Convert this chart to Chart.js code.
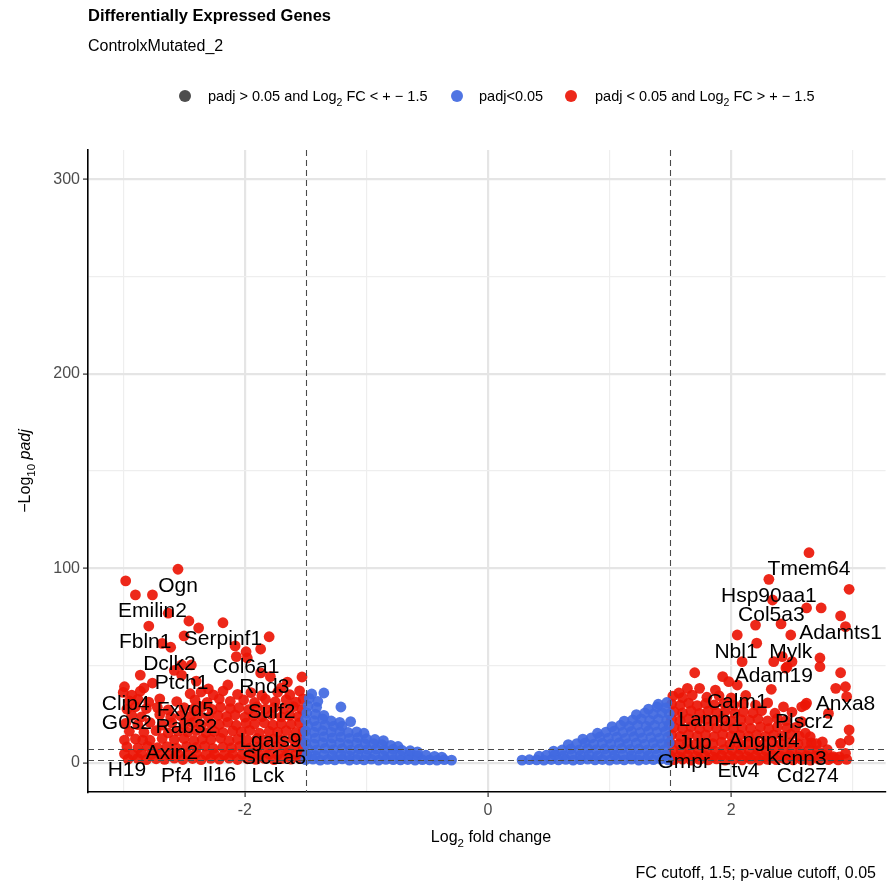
<!DOCTYPE html>
<html>
<head>
<meta charset="utf-8">
<script src="https://cdn.jsdelivr.net/npm/chart.js@4.4.1/dist/chart.umd.min.js"></script>
<style>
  html, body { margin: 0; padding: 0; background: #fff; }
  #wrap { width: 891px; height: 883px; }
</style>
</head>
<body>
<div id="wrap"><canvas id="volcano" width="891" height="883"></canvas></div>
<script>
const FONT = '"Liberation Sans", Arial, Helvetica, sans-serif';
const BLUE = "rgba(65,105,225,0.92)";
const RED = "rgba(236,22,6,0.92)";
const GREY = "#4d4d4d";

// [log2FC, -log10 padj]
const redLeft = [
  [-2.55,99.5],[-2.98,93.5],[-2.90,86.3],[-2.76,86.3],[-2.63,76.9],[-2.79,70.3],[-2.46,72.9],[-2.38,69.3],
  [-2.18,72.0],[-1.80,64.8],[-2.50,65.2],[-2.68,61.4],[-2.61,59.4],[-2.08,60.1],[-1.99,57.1],[-1.87,58.5],
  [-2.07,54.6],[-1.98,53.9],[-2.52,50.3],[-2.44,50.3],[-2.58,47.5],[-1.53,44.1],[-1.79,44.3],[-1.87,46.2],
  [-2.14,40.0],[-2.86,45.1],[-2.76,41.0],[-2.99,39.1],[-2.83,38.5],[-2.52,45.1],[-2.40,42.0],[-2.30,38.0],
  [-1.65,41.5],[-1.70,38.5],[-2.99,11.7],[-2.84,11.7],
  [-3.00,36.2],[-2.93,34.8],[-2.86,36.8],[-2.45,35.5],[-2.36,36.4],[-2.26,34.9],[-2.18,36.9],[-2.06,35.2],
  [-1.95,36.1],[-1.86,34.6],[-1.73,36.3],[-1.63,35.0],[-1.55,37.0],
  [-2.95,31.8],[-2.88,32.6],[-2.79,31.2],[-2.70,32.9],[-2.56,31.5],[-2.41,32.4],[-2.31,31.1],[-2.21,32.8],
  [-2.12,31.6],[-2.01,32.3],[-1.92,31.0],[-1.83,32.7],[-1.75,31.4],[-1.66,32.5],[-1.58,31.2],[-1.52,32.9],
  [-2.97,27.6],[-2.90,28.8],[-2.81,27.9],[-2.72,28.5],[-2.63,27.2],[-2.50,28.4],[-2.42,27.7],[-2.35,28.9],
  [-2.27,27.4],[-2.20,28.6],[-2.12,27.9],[-2.05,28.3],[-1.97,27.3],[-1.90,28.7],[-1.83,27.6],[-1.76,28.4],
  [-1.68,27.8],[-1.60,28.9],[-1.53,27.5],
  [-2.93,24.4],[-2.85,23.6],[-2.70,24.8],[-2.61,23.5],[-2.53,24.2],[-2.45,23.9],[-2.38,24.7],[-2.30,23.4],
  [-2.22,24.3],[-2.15,23.8],[-2.08,24.6],[-2.00,23.5],[-1.93,24.1],[-1.86,23.7],[-1.78,24.8],[-1.70,23.6],
  [-1.63,24.4],[-1.56,23.9],
  [-2.98,20.3],[-2.88,19.6],[-2.78,20.7],[-2.68,19.4],[-2.60,20.5],[-2.50,19.8],[-2.43,20.6],[-2.36,19.5],
  [-2.28,20.2],[-2.21,19.7],[-2.14,20.8],[-2.07,19.3],[-1.99,20.4],[-1.92,19.9],[-1.84,20.6],[-1.77,19.5],
  [-1.70,20.1],[-1.62,19.8],[-1.55,20.5],
  [-2.95,16.2],[-2.83,15.7],[-2.73,16.5],[-2.63,15.4],[-2.55,16.3],[-2.47,15.8],[-2.40,16.6],[-2.32,15.5],
  [-2.25,16.1],[-2.18,15.6],[-2.10,16.4],[-2.03,15.9],[-1.96,16.7],[-1.88,15.3],[-1.80,16.2],[-1.73,15.8],
  [-1.66,16.5],[-1.58,15.6],[-1.52,16.3],
  [-2.90,12.3],[-2.78,11.6],[-2.68,12.5],[-2.58,11.8],[-2.50,12.4],[-2.42,11.5],[-2.35,12.2],[-2.28,11.9],
  [-2.20,12.6],[-2.13,11.4],[-2.06,12.1],[-1.98,11.7],[-1.90,12.5],[-1.83,11.6],[-1.76,12.3],[-1.69,11.8],
  [-1.61,12.4],[-1.54,11.5],
  [-2.97,8.2],[-2.88,7.6],[-2.80,8.5],[-2.72,7.8],[-2.64,8.3],[-2.56,7.5],[-2.48,8.4],[-2.40,7.9],
  [-2.33,8.6],[-2.26,7.4],[-2.18,8.1],[-2.11,7.7],[-2.04,8.5],[-1.96,7.6],[-1.89,8.2],[-1.82,7.8],
  [-1.74,8.4],[-1.67,7.5],[-1.59,8.1],[-1.52,7.7],
  [-2.99,4.6],[-2.92,4.1],[-2.85,4.9],[-2.77,4.3],[-2.70,4.7],[-2.62,4.0],[-2.55,4.8],[-2.47,4.4],
  [-2.40,4.9],[-2.32,4.2],[-2.25,4.6],[-2.17,4.1],[-2.10,4.8],[-2.02,4.3],[-1.95,4.7],[-1.88,4.0],
  [-1.80,4.5],[-1.73,4.2],[-1.65,4.8],[-1.58,4.3],[-1.51,4.6],
  [-2.96,1.9],[-2.88,2.3],[-2.81,1.6],[-2.73,2.1],[-2.66,1.8],[-2.58,2.4],[-2.51,1.7],[-2.43,2.2],
  [-2.36,1.6],[-2.28,2.3],[-2.21,1.9],[-2.13,2.4],[-2.06,1.7],[-1.98,2.1],[-1.91,1.8],[-1.84,2.3],
  [-1.76,1.6],[-1.69,2.2],[-1.62,1.9],[-1.54,2.4],
];

const redRight = [
  [2.64,108.0],[2.31,94.3],[2.97,89.2],[2.34,83.7],[2.62,79.6],[2.74,79.6],[2.90,75.5],[2.94,70.0],
  [2.20,70.8],[2.41,71.4],[2.49,65.7],[2.05,65.7],[2.21,61.5],[2.73,53.9],[2.09,52.0],[2.35,52.0],
  [2.45,48.7],[2.50,52.0],[2.73,49.4],[2.90,46.3],[1.70,46.3],[1.93,44.3],[1.98,41.7],[2.05,40.0],
  [2.33,37.8],[2.86,38.3],[2.94,39.1],[2.95,34.0],[1.87,37.4],[1.74,38.3],[1.64,38.3],[1.57,35.9],
  [2.61,29.7],[2.43,28.8],[2.97,16.9],[2.97,11.7],[2.75,10.8],[2.89,3.1],[2.61,15.3],[2.66,10.2],
  [2.62,30.7],[2.58,28.8],[2.80,25.4],[2.90,10.0],[2.65,13.4],[2.58,21.1],[2.94,4.9],[2.83,2.5],
  [2.42,54.6],[2.46,49.4],
  [1.52,34.3],[1.60,33.5],[1.68,34.8],[1.80,33.7],[1.90,34.5],[2.00,33.4],[2.12,34.6],
  [1.51,30.2],[1.58,29.6],[1.65,30.7],[1.72,29.4],[1.79,30.5],[1.86,29.8],[1.94,30.6],[2.02,29.5],
  [2.10,30.3],[2.20,29.7],[2.30,30.8],
  [1.53,26.3],[1.60,25.6],[1.67,26.7],[1.74,25.4],[1.81,26.5],[1.88,25.8],[1.95,26.6],[2.03,25.5],
  [2.10,26.2],[2.18,25.7],[2.25,26.8],[2.36,25.5],[2.50,26.1],
  [1.51,22.4],[1.58,21.7],[1.65,22.6],[1.72,21.5],[1.79,22.3],[1.86,21.8],[1.93,22.7],[2.00,21.4],
  [2.08,22.2],[2.15,21.9],[2.22,22.5],[2.30,21.6],[2.38,22.8],[2.45,21.7],
  [1.53,18.2],[1.60,17.6],[1.67,18.5],[1.74,17.4],[1.81,18.3],[1.88,17.8],[1.95,18.6],[2.02,17.5],
  [2.09,18.1],[2.16,17.7],[2.24,18.4],[2.31,17.6],[2.38,18.5],[2.46,17.8],[2.53,18.2],
  [1.51,14.3],[1.58,13.6],[1.65,14.5],[1.72,13.8],[1.79,14.4],[1.86,13.5],[1.93,14.6],[2.00,13.9],
  [2.07,14.2],[2.14,13.7],[2.21,14.5],[2.28,13.6],[2.35,14.4],[2.42,13.8],[2.49,14.6],[2.56,13.7],
  [1.50,10.2],[1.57,9.7],[1.64,10.5],[1.71,9.6],[1.78,10.3],[1.85,9.8],[1.92,10.6],[1.99,9.5],
  [2.06,10.1],[2.13,9.9],[2.20,10.4],[2.27,9.6],[2.34,10.5],[2.41,9.8],[2.48,10.3],[2.55,9.7],
  [2.62,10.2],[2.70,9.9],
  [1.52,6.6],[1.59,6.1],[1.66,6.9],[1.73,6.3],[1.80,6.7],[1.87,6.0],[1.94,6.8],[2.01,6.4],
  [2.08,6.9],[2.15,6.2],[2.22,6.6],[2.29,6.1],[2.36,6.8],[2.43,6.3],[2.50,6.7],[2.57,6.0],
  [2.64,6.5],[2.71,6.2],[2.79,6.8],
  [1.50,3.6],[1.57,3.2],[1.64,3.9],[1.71,3.3],[1.78,3.7],[1.85,3.1],[1.92,3.8],[1.99,3.4],
  [2.06,3.9],[2.13,3.2],[2.20,3.6],[2.27,3.0],[2.34,3.8],[2.41,3.3],[2.48,3.7],[2.55,3.1],
  [2.62,3.6],[2.69,3.4],[2.76,3.9],[2.84,3.2],
  [1.53,1.6],[1.60,1.9],[1.67,1.4],[1.74,1.8],[1.81,1.5],[1.88,2.0],[1.95,1.4],[2.02,1.7],
  [2.09,1.5],[2.16,1.9],[2.23,1.4],[2.30,1.8],[2.37,1.6],[2.44,2.0],[2.51,1.5],[2.58,1.7],
  [2.65,1.4],[2.72,1.9],[2.80,1.6],[2.88,1.5],[2.95,1.8],
];

const blueLeft = [
  [-1.50,1.6],[-1.44,1.9],[-1.38,1.4],[-1.32,1.8],[-1.26,1.5],[-1.20,2.0],[-1.14,1.4],[-1.08,1.7],
  [-1.02,1.5],[-0.96,1.9],[-0.90,1.4],[-0.84,1.8],[-0.78,1.6],[-0.72,1.5],[-0.66,1.7],[-0.60,1.4],
  [-0.54,1.6],[-0.48,1.5],[-0.42,1.4],[-0.36,1.6],[-0.30,1.4],
  [-1.49,4.1],[-1.42,3.7],[-1.35,4.3],[-1.28,3.8],[-1.21,4.2],[-1.14,3.6],[-1.07,4.4],[-1.00,3.9],
  [-0.93,4.2],[-0.86,3.7],[-0.79,4.1],[-0.72,3.8],[-0.65,4.0],[-0.58,3.6],[-0.51,3.9],[-0.44,3.3],[-0.38,2.9],
  [-1.48,7.2],[-1.41,6.7],[-1.34,7.4],[-1.27,6.8],[-1.20,7.3],[-1.13,6.6],[-1.06,7.1],[-0.99,6.9],
  [-0.92,7.2],[-0.85,6.6],[-0.78,7.0],[-0.71,6.5],[-0.64,6.2],[-0.58,5.6],
  [-1.50,10.1],[-1.43,9.6],[-1.36,10.4],[-1.29,9.8],[-1.22,10.3],[-1.15,9.5],[-1.08,10.2],[-1.01,9.7],
  [-0.94,9.9],[-0.87,9.3],[-0.80,9.0],[-0.74,8.4],
  [-1.49,13.2],[-1.42,12.7],[-1.35,13.4],[-1.28,12.8],[-1.21,13.3],[-1.14,12.6],[-1.07,13.0],[-1.00,12.4],
  [-0.93,12.0],[-0.86,11.4],
  [-1.50,16.3],[-1.43,15.7],[-1.36,16.5],[-1.29,15.8],[-1.22,16.2],[-1.15,15.6],[-1.08,15.9],[-1.02,15.2],
  [-1.48,19.2],[-1.41,18.7],[-1.34,19.5],[-1.27,18.8],[-1.20,18.9],[-1.13,21.2],
  [-1.50,22.4],[-1.43,21.7],[-1.36,22.6],[-1.29,21.5],[-1.22,20.8],
  [-1.49,25.6],[-1.42,25.0],[-1.35,24.4],
  [-1.48,29.3],[-1.41,28.5],[-1.21,28.7],
  [-1.47,33.1],[-1.40,31.6],[-1.45,35.4],[-1.35,35.9],
];

const blueRight = [
  [0.28,1.4],[0.34,1.6],[0.40,1.5],[0.46,1.4],[0.52,1.7],[0.58,1.5],[0.64,1.8],[0.70,1.4],
  [0.76,1.6],[0.82,1.9],[0.88,1.5],[0.94,1.7],[1.00,1.4],[1.06,1.8],[1.12,1.5],[1.18,1.9],
  [1.24,1.4],[1.30,1.7],[1.36,1.6],[1.42,1.9],[1.48,1.5],
  [0.42,3.4],[0.48,3.9],[0.55,4.1],[0.62,3.7],[0.69,4.3],[0.76,3.8],[0.83,4.2],[0.90,3.6],
  [0.97,4.4],[1.04,3.9],[1.11,4.2],[1.18,3.7],[1.25,4.1],[1.32,3.8],[1.39,4.3],[1.46,3.9],
  [0.54,6.0],[0.61,6.6],[0.68,7.1],[0.75,6.7],[0.82,7.3],[0.89,6.8],[0.96,7.2],[1.03,6.6],
  [1.10,7.4],[1.17,6.9],[1.24,7.1],[1.31,6.7],[1.38,7.3],[1.45,6.8],
  [0.66,9.4],[0.73,9.9],[0.80,10.3],[0.87,9.6],[0.94,10.1],[1.01,9.7],[1.08,10.4],[1.15,9.8],
  [1.22,10.2],[1.29,9.6],[1.36,10.3],[1.43,9.9],[1.49,10.2],
  [0.78,12.2],[0.85,12.8],[0.92,13.3],[0.99,12.7],[1.06,13.2],[1.13,12.6],[1.20,13.4],[1.27,12.8],
  [1.34,13.1],[1.41,12.7],[1.48,13.3],
  [0.90,15.2],[0.97,15.8],[1.04,16.4],[1.11,15.7],[1.18,16.2],[1.25,15.6],[1.32,16.5],[1.39,15.9],[1.46,16.3],
  [1.02,18.6],[1.09,19.3],[1.16,18.8],[1.23,19.5],[1.30,18.9],[1.37,19.4],[1.44,18.7],[1.49,19.6],
  [1.12,21.4],[1.19,22.1],[1.26,22.6],[1.33,21.8],[1.40,22.5],[1.47,21.9],
  [1.22,24.8],[1.29,25.6],[1.36,25.1],[1.43,25.8],[1.49,25.2],
  [1.32,27.6],[1.39,28.7],[1.46,28.2],[1.40,30.1],[1.47,31.0],
];

// labelled genes and where their text sits
const geneNames = ["Ogn","Emilin2","Fbln1","Serpinf1","Dclk2","Col6a1","Ptch1","Rnd3","Clip4","Fxyd5",
  "Sulf2","G0s2","Rab32","Lgals9","Axin2","Slc1a5","H19","Pf4","Il16","Lck",
  "Tmem64","Hsp90aa1","Col5a3","Adamts1","Nbl1","Mylk","Adam19","Anxa8","Calm1","Lamb1",
  "Plscr2","Jup","Angptl4","Gmpr","Kcnn3","Etv4","Cd274"];
const geneX = [-2.55,-2.76,-2.82,-2.18,-2.62,-1.99,-2.52,-1.84,-2.98,-2.49,
  -1.78,-2.97,-2.48,-1.79,-2.60,-1.76,-2.97,-2.56,-2.21,-1.81,
  2.64,2.31,2.33,2.90,2.04,2.49,2.35,2.94,2.05,1.83,
  2.60,1.70,2.27,1.61,2.54,2.06,2.63];
const geneY = [90.6,77.8,62.2,63.4,50.6,48.9,40.8,39.0,29.9,27.0,
  26.2,20.6,18.4,11.3,4.9,2.3,-3.7,-6.8,-6.3,-6.8,
  99.4,85.9,76.0,66.5,57.1,57.1,44.6,30.3,31.1,21.7,
  20.7,10.3,11.3,0.5,1.8,-4.1,-6.8];

const xGrid = [-3, -2, -1, 0, 1, 2, 3];
const xTickLabels = [-2, 0, 2];
const yGrid = [0, 50, 100, 150, 200, 250, 300];
const yTickLabels = [0, 100, 200, 300];
const fcCutoffs = [-1.5, 1.5];
const pCutoffs = [1.3, 7.1];

const toPts = (arr) => arr.map(([x, y]) => ({ x, y }));

function richText(ctx, parts, x, y, align) {
  // parts: [text, size, opts] ; opts.sub lowers, opts.italic
  const widths = parts.map(([t, s, o]) => {
    ctx.font = `${o && o.italic ? "italic " : ""}${s}px ${FONT}`;
    return ctx.measureText(t).width;
  });
  const total = widths.reduce((a, b) => a + b, 0);
  let cx = align === "center" ? x - total / 2 : align === "right" ? x - total : x;
  ctx.textAlign = "left";
  ctx.textBaseline = "alphabetic";
  parts.forEach(([t, s, o], i) => {
    ctx.font = `${o && o.italic ? "italic " : ""}${s}px ${FONT}`;
    ctx.fillText(t, cx, y + (o && o.sub ? s * 0.45 : 0));
    cx += widths[i];
  });
}

const isMajor = (list) => (c) => c.tick && list.includes(c.tick.value);

const overlay = {
  id: "overlay",
  beforeDraw(chart) {
    const { ctx, width, height } = chart;
    ctx.save();
    ctx.fillStyle = "#fff";
    ctx.fillRect(0, 0, width, height);
    ctx.restore();
  },
  afterDatasetsDraw(chart) {
    const { ctx, chartArea: a, scales: { x, y } } = chart;
    ctx.save();
    ctx.beginPath();
    ctx.rect(a.left, a.top, a.right - a.left, a.bottom - a.top);
    ctx.clip();
    ctx.setLineDash([6, 4]);
    ctx.strokeStyle = "#4a4a4a";
    ctx.lineWidth = 1.1;
    fcCutoffs.forEach((v) => {
      const px = Math.round(x.getPixelForValue(v)) + 0.5;
      ctx.beginPath(); ctx.moveTo(px, a.top); ctx.lineTo(px, a.bottom); ctx.stroke();
    });
    pCutoffs.forEach((v) => {
      const py = Math.round(y.getPixelForValue(v)) + 0.5;
      ctx.beginPath(); ctx.moveTo(a.left, py); ctx.lineTo(a.right, py); ctx.stroke();
    });
    ctx.restore();

    ctx.save();
    ctx.fillStyle = "#000";
    ctx.font = `21px ${FONT}`;
    ctx.textAlign = "center";
    ctx.textBaseline = "middle";
    geneNames.forEach((g, i) => ctx.fillText(g, x.getPixelForValue(geneX[i]), y.getPixelForValue(geneY[i])));
    ctx.restore();
  },
  afterDraw(chart) {
    const { ctx, chartArea: a } = chart;
    ctx.save();
    ctx.fillStyle = "#000";
    ctx.textAlign = "left";
    ctx.textBaseline = "middle";
    ctx.font = `bold 16.5px ${FONT}`;
    ctx.fillText("Differentially Expressed Genes", a.left, 16);
    ctx.font = `16px ${FONT}`;
    ctx.fillText("ControlxMutated_2", a.left, 47);

    // legend
    const legY = 96;
    const items = [
      { c: GREY, dot: 185, tx: 208, parts: [["padj > 0.05 and Log", 14.5], ["2", 10.5, { sub: true }], [" FC < + \u2212 1.5", 14.5]] },
      { c: BLUE, dot: 457, tx: 479, parts: [["padj<0.05", 14.5]] },
      { c: RED, dot: 571, tx: 595, parts: [["padj < 0.05 and Log", 14.5], ["2", 10.5, { sub: true }], [" FC > + \u2212 1.5", 14.5]] },
    ];
    items.forEach((it) => {
      ctx.fillStyle = it.c;
      ctx.beginPath(); ctx.arc(it.dot, legY, 6, 0, Math.PI * 2); ctx.fill();
      ctx.fillStyle = "#000";
      richText(ctx, it.parts, it.tx, legY + 5, "left");
    });

    // axis titles
    ctx.fillStyle = "#000";
    richText(ctx, [["Log", 16], ["2", 11.5, { sub: true }], [" fold change", 16]], 491, 842, "center");
    ctx.save();
    ctx.translate(30, (a.top + a.bottom) / 2);
    ctx.rotate(-Math.PI / 2);
    richText(ctx, [["\u2212Log", 16], ["10", 11.5, { sub: true }], [" ", 16], ["padj", 16, { italic: true }]], 0, 0, "center");
    ctx.restore();

    ctx.font = `16px ${FONT}`;
    ctx.textAlign = "right";
    ctx.textBaseline = "middle";
    ctx.fillText("FC cutoff, 1.5; p-value cutoff, 0.05", 876, 874);
    ctx.restore();
  },
};

const pointStyle = (color) => ({
  backgroundColor: color,
  borderWidth: 0,
  pointRadius: 5.4,
  pointHoverRadius: 5.4,
});

new Chart(document.getElementById("volcano"), {
  type: "scatter",
  data: {
    datasets: [
      { label: "padj<0.05", data: toPts(blueLeft.concat(blueRight)), ...pointStyle(BLUE) },
      { label: "padj < 0.05 and Log2 FC > +-1.5", data: toPts(redLeft.concat(redRight)), ...pointStyle(RED) },
    ],
  },
  options: {
    responsive: false,
    animation: false,
    events: [],
    devicePixelRatio: 1,
    layout: { padding: { top: 150, right: 4, bottom: 0, left: 0 } },
    plugins: { legend: { display: false }, tooltip: { enabled: false }, title: { display: false } },
    scales: {
      x: {
        type: "linear",
        min: -3.29,
        max: 3.27,
        afterBuildTicks: (s) => { s.ticks = xGrid.map((v) => ({ value: v })); },
        afterFit: (s) => { s.height = 91; },
        ticks: {
          autoSkip: false,
          maxRotation: 0,
          padding: 4,
          color: GREY,
          font: { family: FONT, size: 16 },
          callback: (v) => (xTickLabels.includes(v) ? String(v) : ""),
        },
        grid: {
          color: (c) => (isMajor(xTickLabels)(c) ? "#e5e5e5" : "#eeeeee"),
          lineWidth: (c) => (isMajor(xTickLabels)(c) ? 2.2 : 1.2),
          tickColor: (c) => (isMajor(xTickLabels)(c) ? "#333" : "rgba(0,0,0,0)"),
          tickLength: 5,
          tickWidth: 1.2,
        },
        border: { display: true, color: "#000", width: 1.6 },
      },
      y: {
        type: "linear",
        min: -15,
        max: 315,
        afterBuildTicks: (s) => { s.ticks = yGrid.map((v) => ({ value: v })); },
        afterFit: (s) => { s.width = 88; },
        ticks: {
          autoSkip: false,
          padding: 3,
          color: GREY,
          font: { family: FONT, size: 16 },
          callback: (v) => (yTickLabels.includes(v) ? String(v) : ""),
        },
        grid: {
          color: (c) => (isMajor(yTickLabels)(c) ? "#e5e5e5" : "#eeeeee"),
          lineWidth: (c) => (isMajor(yTickLabels)(c) ? 2.2 : 1.2),
          tickColor: (c) => (isMajor(yTickLabels)(c) ? "#333" : "rgba(0,0,0,0)"),
          tickLength: 5,
          tickWidth: 1.2,
        },
        border: { display: true, color: "#000", width: 1.6 },
      },
    },
  },
  plugins: [overlay],
});
</script>
</body>
</html>
